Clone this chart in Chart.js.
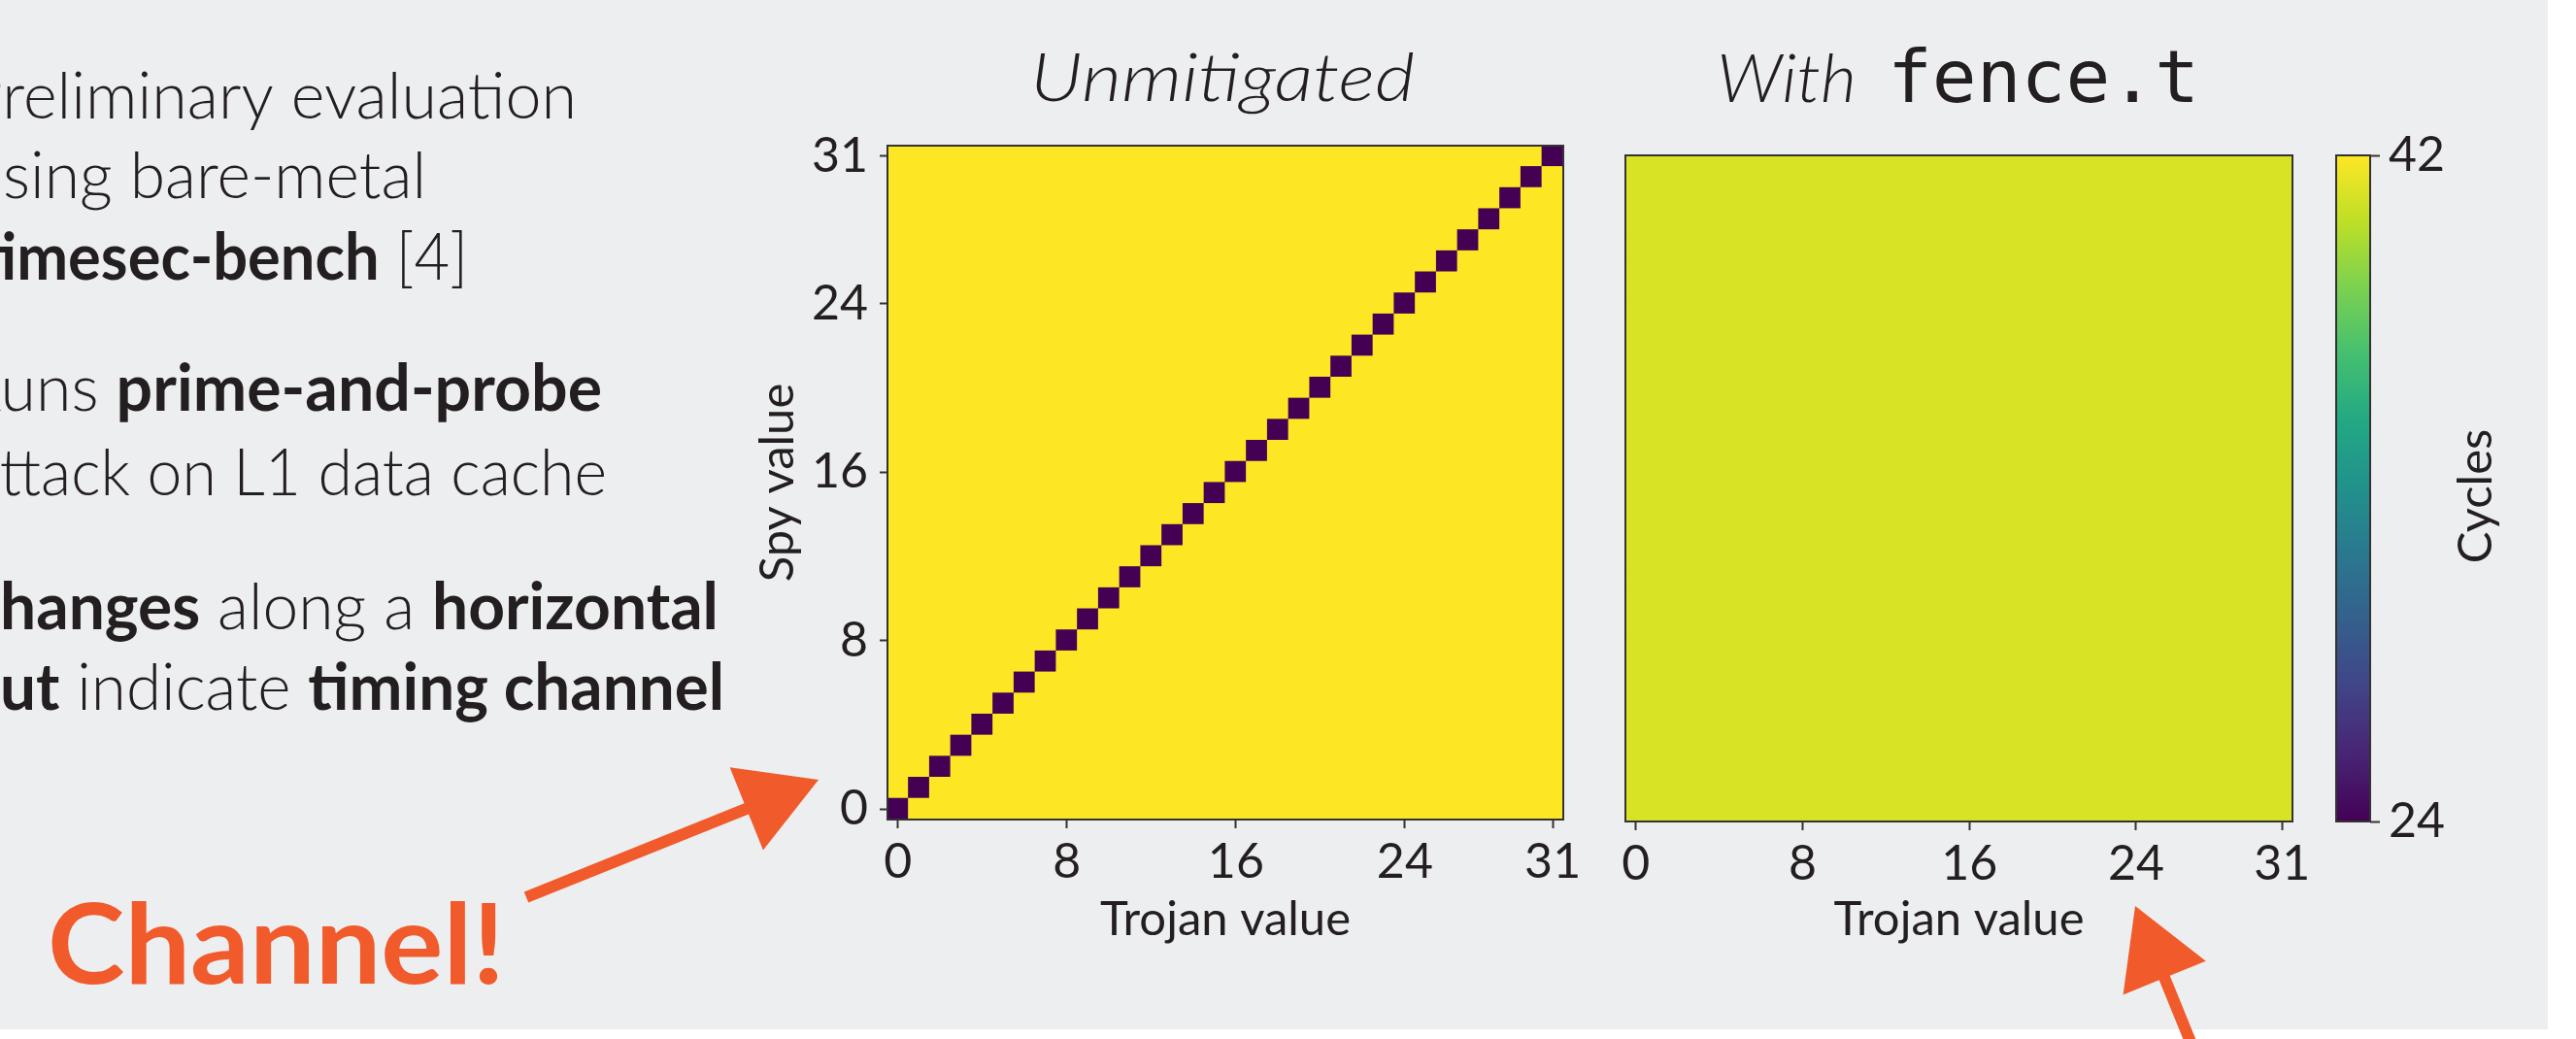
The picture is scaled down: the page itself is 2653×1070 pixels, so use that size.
<!DOCTYPE html>
<html>
<head>
<meta charset="utf-8">
<title>Prime-and-probe timing channel</title>
<script src="https://cdn.jsdelivr.net/npm/chart.js"></script>
<style>
  html, body { margin: 0; padding: 0; background: #fff; }
  body { width: 2653px; height: 1070px; position: relative; overflow: hidden; }
  canvas { position: absolute; }
</style>
</head>
<body>
<canvas id="backdrop" width="2653" height="1070" style="left:0;top:0"></canvas>
<canvas id="unmitigated" width="880" height="910" style="left:760px;top:100px"></canvas>
<canvas id="fenced" width="727" height="912" style="left:1664px;top:100px"></canvas>
<canvas id="colorbar" width="204" height="786" style="left:2396px;top:100px"></canvas>
<script>
'use strict';
//--------------------DATA

// values on both heatmap axes
const trojanValues = [0, 1, 2, 3, 4, 5, 6, 7, 8, 9, 10, 11, 12, 13, 14, 15,
  16, 17, 18, 19, 20, 21, 22, 23, 24, 25, 26, 27, 28, 29, 30, 31];
const spyValues = [0, 1, 2, 3, 4, 5, 6, 7, 8, 9, 10, 11, 12, 13, 14, 15,
  16, 17, 18, 19, 20, 21, 22, 23, 24, 25, 26, 27, 28, 29, 30, 31];
const axisTicks = [0, 8, 16, 24, 31];

// Unmitigated: cells read 42 cycles, one dark cell (24 cycles) per spy row
const unmitigatedCycles = 42;
const dipCycles = 24;
// trojan value of the dark cell, for spy value 0..31
const dipTrojanForSpy = [0, 1, 2, 3, 4, 5, 6, 7, 8, 9, 10, 11, 12, 13, 14, 15,
  16, 17, 18, 19, 20, 21, 22, 23, 24, 25, 26, 27, 28, 29, 30, 31];

// With fence.t: one flat colour everywhere
const fencedCycles = 41;

// colour bar
const cycleMin = 24;
const cycleMax = 42;
const colorbarTicks = [24, 42];

//--------------------STYLE

const textColor = '#231f20';
const orange = '#f15a2b';
const viridisStops = ['#440154', '#482475', '#414487', '#355f8d', '#2a788e',
  '#21918c', '#22a884', '#44bf70', '#7ad151', '#bddf26', '#fde725'];

Chart.defaults.font.family = 'Lato, "Open Sans", sans-serif';
Chart.defaults.color = textColor;

//--------------------FUNCTIONS

function hexToRgb(hex) {
  return [1, 3, 5].map(i => parseInt(hex.slice(i, i + 2), 16));
}

// viridis colour for t in 0..1
function viridis(t) {
  t = Math.min(Math.max(t, 0), 1);
  let p = t * (viridisStops.length - 1);
  let i = Math.min(Math.floor(p), viridisStops.length - 2);
  let f = p - i;
  let a = hexToRgb(viridisStops[i]);
  let b = hexToRgb(viridisStops[i + 1]);
  let c = a.map((v, k) => Math.round(v + (b[k] - v) * f));
  return `rgb(${c[0]}, ${c[1]}, ${c[2]})`;
}

function cycleColor(cycles) {
  return viridis((cycles - cycleMin) / (cycleMax - cycleMin));
}

function unmitigatedRow(spyIndex) {
  return trojanValues.map(t => (t === dipTrojanForSpy[spyIndex] ? dipCycles : unmitigatedCycles));
}

const unmitigatedMatrix = spyValues.map((s, i) => unmitigatedRow(i));
const fencedMatrix = spyValues.map(() => trojanValues.map(() => fencedCycles));

// matplotlib-like frame round the plot area
const spines = {
  id: 'spines',
  afterDatasetsDraw(chart) {
    let a = chart.chartArea;
    let ctx = chart.ctx;
    ctx.save();
    ctx.strokeStyle = '#333';
    ctx.lineWidth = 2;
    ctx.strokeRect(a.left, a.top, a.right - a.left, a.bottom - a.top);
    ctx.restore();
  }
};

function tickGrid(len) {
  return {
    display: true,
    drawOnChartArea: false,
    drawTicks: true,
    tickLength: len,
    tickWidth: 2,
    tickColor: '#333',
    offset: false
  };
}

// one floating bar per cell: x = trojan value, y = [spy - 0.5, spy + 0.5]
function heatmapChart(canvasId, matrix, showY, xTitlePad) {
  let datasets = spyValues.map((spy, row) => ({
    data: trojanValues.map(t => ({ x: t, y: [spy - 0.5, spy + 0.5] })),
    backgroundColor: matrix[row].map(cycleColor),
    borderWidth: 0,
    grouped: false,
    barPercentage: 1,
    categoryPercentage: 1,
    inflateAmount: 0.6
  }));

  let cellTicks = scale => {
    scale.ticks = axisTicks.map(v => ({ value: v }));
  };

  return new Chart(document.getElementById(canvasId), {
    type: 'bar',
    data: { datasets: datasets },
    options: {
      responsive: false,
      devicePixelRatio: 1,
      animation: false,
      layout: { padding: showY ? { top: 50, right: 30, bottom: 0, left: 0 } : { top: 60, right: 30, bottom: 0, left: 10 } },
      plugins: { legend: { display: false }, tooltip: { enabled: false } },
      scales: {
        x: {
          type: 'linear',
          min: -0.5,
          max: 31.5,
          offset: false,
          bounds: 'data',
          afterBuildTicks: cellTicks,
          afterFit: scale => { scale.height = 166; },
          ticks: { font: { size: 50 }, color: textColor, padding: 5, maxRotation: 0, autoSkip: false },
          grid: tickGrid(9),
          border: { display: false },
          title: { display: true, text: 'Trojan value', color: textColor, font: { size: 49 }, padding: { top: 0, bottom: xTitlePad } }
        },
        y: {
          type: 'linear',
          display: showY,
          min: -0.5,
          max: 31.5,
          beginAtZero: false,
          bounds: 'data',
          afterBuildTicks: cellTicks,
          afterFit: scale => { scale.width = showY ? 154 : 0; },
          ticks: { font: { size: 50 }, color: textColor, padding: 12, autoSkip: false },
          grid: tickGrid(8),
          border: { display: false },
          title: { display: true, text: 'Spy value', color: textColor, font: { size: 49 }, padding: { top: 12, bottom: 0 } }
        }
      }
    },
    plugins: [spines]
  });
}

// colour bar label reads bottom to top
const cyclesLabel = {
  id: 'cyclesLabel',
  afterDraw(chart) {
    let ctx = chart.ctx;
    let a = chart.chartArea;
    ctx.save();
    ctx.translate(chart.scales.y.right - 50, (a.top + a.bottom) / 2 + 8);
    ctx.rotate(-Math.PI / 2);
    ctx.font = '400 49px Lato, "Open Sans", sans-serif';
    ctx.fillStyle = textColor;
    ctx.textAlign = 'center';
    ctx.textBaseline = 'middle';
    ctx.fillText('Cycles', 0, 0);
    ctx.restore();
  }
};

function colorbarChart() {
  return new Chart(document.getElementById('colorbar'), {
    type: 'bar',
    data: {
      labels: ['Cycles'],
      datasets: [{
        data: [[cycleMin, cycleMax]],
        borderWidth: 0,
        barPercentage: 1,
        categoryPercentage: 1,
        backgroundColor: context => {
          let chart = context.chart;
          if (!chart.chartArea) {
            return viridisStops[0];
          }
          let y = chart.scales.y;
          let g = chart.ctx.createLinearGradient(0, y.getPixelForValue(cycleMin), 0, y.getPixelForValue(cycleMax));
          viridisStops.forEach((c, i) => g.addColorStop(i / (viridisStops.length - 1), c));
          return g;
        }
      }]
    },
    options: {
      responsive: false,
      devicePixelRatio: 1,
      animation: false,
      layout: { padding: { top: 60, right: 0, bottom: 40, left: 10 } },
      plugins: { legend: { display: false }, tooltip: { enabled: false } },
      scales: {
        x: { display: false },
        y: {
          position: 'right',
          min: cycleMin,
          max: cycleMax,
          beginAtZero: false,
          afterBuildTicks: scale => { scale.ticks = colorbarTicks.map(v => ({ value: v })); },
          afterFit: scale => { scale.width = 159; },
          ticks: { font: { size: 50 }, color: textColor, padding: 9, autoSkip: false },
          grid: tickGrid(10),
          border: { display: false }
        }
      }
    },
    plugins: [spines, cyclesLabel]
  });
}

//--------------------BACKDROP (slide text and arrows)

// draws segments of one text line squeezed so the visible part spans visLeft..visRight
function drawSlideLine(ctx, segs, hidden, visLeft, visRight, baseline, size, family) {
  let fontFor = seg => `${seg.italic ? 'italic ' : ''}${seg.bold ? 700 : (seg.weight || 300)} ${seg.size || size}px ${seg.family || family}`;
  let widths = segs.map(seg => {
    ctx.font = fontFor(seg);
    return ctx.measureText(seg.t).width;
  });
  let full = widths.reduce((s, w) => s + w, 0);
  ctx.font = fontFor(segs[0]);
  let hiddenW = hidden ? ctx.measureText(hidden).width : 0;
  let sx = (visRight - visLeft) / (full - hiddenW);
  ctx.save();
  ctx.translate(visLeft - hiddenW * sx, baseline);
  ctx.scale(sx, 1);
  let x = 0;
  segs.forEach((seg, i) => {
    ctx.font = fontFor(seg);
    ctx.fillText(seg.t, x, 0);
    x += widths[i];
  });
  ctx.restore();
}

function drawArrow(ctx, tail, tip, shaftW, headLen, headHalfW) {
  let dx = tip[0] - tail[0];
  let dy = tip[1] - tail[1];
  let len = Math.hypot(dx, dy);
  let ux = dx / len;
  let uy = dy / len;
  let nx = -uy;
  let ny = ux;
  let bx = tip[0] - ux * headLen;
  let by = tip[1] - uy * headLen;
  ctx.beginPath();
  ctx.moveTo(tail[0] + nx * shaftW / 2, tail[1] + ny * shaftW / 2);
  ctx.lineTo(bx + nx * shaftW / 2, by + ny * shaftW / 2);
  ctx.lineTo(bx + nx * headHalfW, by + ny * headHalfW);
  ctx.lineTo(tip[0], tip[1]);
  ctx.lineTo(bx - nx * headHalfW, by - ny * headHalfW);
  ctx.lineTo(bx - nx * shaftW / 2, by - ny * shaftW / 2);
  ctx.lineTo(tail[0] - nx * shaftW / 2, tail[1] - ny * shaftW / 2);
  ctx.closePath();
  ctx.fill();
}

function drawBackdrop() {
  let ctx = document.getElementById('backdrop').getContext('2d');
  ctx.fillStyle = '#ffffff';
  ctx.fillRect(0, 0, 2653, 1070);
  ctx.fillStyle = '#edeef0';
  ctx.fillRect(0, 0, 2624, 1060);

  let sans = 'Lato, "Open Sans", sans-serif';
  ctx.fillStyle = textColor;
  ctx.textBaseline = 'alphabetic';
  ctx.textAlign = 'left';

  // bullet text, cut off at the left edge of the slide
  drawSlideLine(ctx, [{ t: 'Preliminary evaluation' }], 'P', 3, 594, 122, 67, sans);
  drawSlideLine(ctx, [{ t: 'using bare-metal' }], 'u', 3, 439, 204, 67, sans);
  drawSlideLine(ctx, [{ t: 'timesec-bench', bold: true }, { t: ' [4]' }], 't', 0, 482, 288, 67, sans);
  drawSlideLine(ctx, [{ t: 'Runs ' }, { t: 'prime-and-probe', bold: true }], 'R', 2, 620, 423, 67, sans);
  drawSlideLine(ctx, [{ t: 'attack on L1 data cache' }], 'a', 0, 625, 510, 67, sans);
  drawSlideLine(ctx, [{ t: 'Changes', bold: true }, { t: ' along a ' }, { t: 'horizontal', bold: true }], 'C', 0, 740, 648, 67, sans);
  drawSlideLine(ctx, [{ t: 'cut', bold: true }, { t: ' indicate ' }, { t: 'timing channel', bold: true }], 'c', 0, 746, 731, 67, sans);

  // panel titles
  drawSlideLine(ctx, [{ t: 'Unmitigated', italic: true, weight: 300 }], '', 1061, 1457, 104, 70, sans);
  drawSlideLine(ctx, [{ t: 'With', italic: true, weight: 300 }], '', 1768, 1912, 105, 70, sans);
  drawSlideLine(ctx, [{ t: 'fence.t', weight: 400, size: 74, family: '"DejaVu Sans Mono", monospace' }], '', 1944, 2265, 105, 74, sans);

  // call-out
  ctx.fillStyle = orange;
  drawSlideLine(ctx, [{ t: 'Channel!', bold: true }], '', 49, 520, 1013, 115, sans);
  drawArrow(ctx, [542, 924], [843, 803], 12, 80, 46);
  drawArrow(ctx, [2265, 1095], [2199, 933], 12, 80, 46);
}

//--------------------FUNCTION CALLS

drawBackdrop();
heatmapChart('unmitigated', unmitigatedMatrix, true, 33);
heatmapChart('fenced', fencedMatrix, false, 35);
colorbarChart();
</script>
</body>
</html>
